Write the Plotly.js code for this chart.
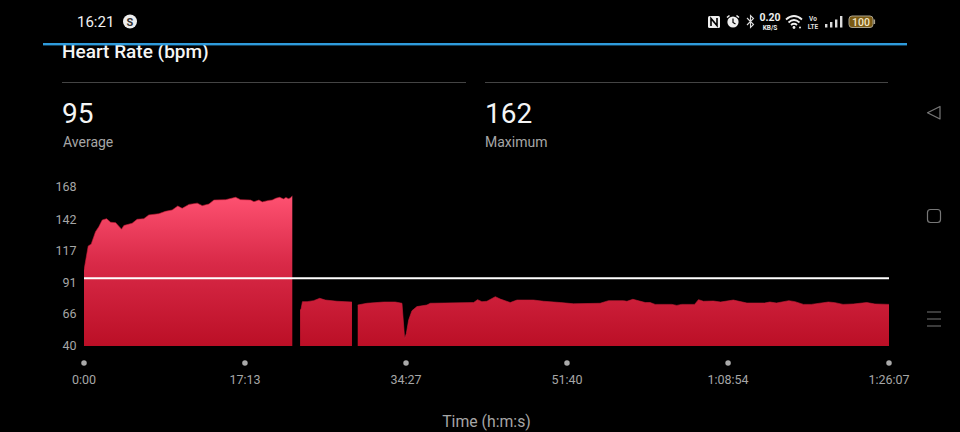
<!DOCTYPE html>
<html>
<head>
<meta charset="utf-8">
<script src="https://cdn.plot.ly/plotly-3.0.1.min.js"></script>
<style>
html,body{margin:0;padding:0;background:#000;width:960px;height:432px;overflow:hidden}
#chart{position:absolute;left:0;top:0;width:960px;height:432px}
#chrome{position:absolute;left:0;top:0;width:960px;height:432px;pointer-events:none}
</style>
</head>
<body>
<div id="chart"></div>
<svg id="chrome" width="960" height="432" font-family="Roboto, sans-serif">
  <rect x="0" y="0" width="960" height="43" fill="#000"/>
  <rect x="43" y="43" width="864" height="2.4" fill="#2f9bdc"/>
  <text x="77" y="26.5" fill="#f2f2f2" font-size="15" font-weight="400">16:21</text>
  <circle cx="130" cy="21.5" r="7" fill="#eee"/>
  <text x="130" y="25.5" fill="#333" font-size="11" font-weight="700" text-anchor="middle">S</text>
  <rect x="708" y="16" width="12" height="12" rx="1.5" fill="#eee"/>
  <path d="M711 26V18.5L717 25.5V18" stroke="#000" stroke-width="1.6" fill="none"/>
  <circle cx="733" cy="22" r="5.6" fill="#eee"/>
  <path d="M733 18.5V22.5L735.5 24" stroke="#000" stroke-width="1.2" fill="none"/>
  <path d="M727 17.5L729.5 15.5M739 17.5L736.5 15.5" stroke="#eee" stroke-width="1.6"/>
  <path d="M747 18L753.5 24.5L750.5 27.5V15.5L753.5 18.5L747 25" stroke="#ddd" stroke-width="1.1" fill="none"/>
  <text x="770" y="21" fill="#eee" font-size="10.5" font-weight="700" text-anchor="middle">0.20</text>
  <text x="770" y="29.5" fill="#eee" font-size="6.5" font-weight="700" text-anchor="middle">KB/S</text>
  <path d="M786 19.5Q794 12.5 802 19.5M788.5 22.5Q794 17.5 799.5 22.5M791 25Q794 22.5 797 25" stroke="#eee" stroke-width="1.8" fill="none"/>
  <circle cx="794" cy="27.5" r="1.4" fill="#eee"/>
  <circle cx="800" cy="27.5" r="1" fill="#eee"/>
  <text x="813" y="21" fill="#ddd" font-size="6.5" font-weight="700" text-anchor="middle">Vo</text>
  <text x="813" y="28.5" fill="#ddd" font-size="6.5" font-weight="700" text-anchor="middle">LTE</text>
  <rect x="825" y="24" width="2.4" height="3.5" fill="#ddd"/>
  <rect x="830" y="22" width="2.4" height="5.5" fill="#ddd"/>
  <rect x="835" y="19.5" width="2.4" height="8" fill="#ddd"/>
  <rect x="840" y="16" width="2.4" height="11.5" fill="#ddd"/>
  <rect x="849" y="16" width="24" height="11.5" rx="3" fill="#7a5a14" stroke="#a8a08a" stroke-width="1"/>
  <rect x="873.5" y="19.5" width="1.6" height="4.5" fill="#a8a08a"/>
  <text x="861" y="26" fill="#f3e6c4" font-size="10.5" font-weight="500" text-anchor="middle">100</text>
  <rect x="62" y="82" width="404" height="1" fill="#444"/>
  <rect x="485" y="82" width="403" height="1" fill="#444"/>
  <path d="M927.5 112.7L940 106.5V119Z" fill="none" stroke="#777" stroke-width="1.2" stroke-linejoin="round"/>
  <rect x="927.5" y="209.5" width="13" height="13" rx="3" fill="none" stroke="#777" stroke-width="1.2"/>
  <path d="M927 312H941M927 319H941M927 326H941" stroke="#777" stroke-width="1.2"/>
</svg>
<script>
// Elapsed time in seconds and heart rate in bpm
var seg1Time = [0,8,16,27,46,59,74,95,117,145,171,203,224,241,256,288,309,341,384,416,480,523,566,602,630,674,727,759,802,834,909,973,1005,1069,1091,1123,1144,1185,1208,1232,1256,1281,1296,1312,1324,1337];
var seg1Rate = [101,106.6,114.6,120.5,122,126.7,132,136,141.4,142.5,139.6,139.3,136,134,137,138,138.8,142,142.5,145.5,146.5,148.4,149.5,152.7,150.8,154,155,153,154.3,157.5,157.8,159.7,157.8,157.5,156.2,157.5,156,157.2,157.5,159,159.7,158.4,159.6,158.6,159.2,160.8];
var seg2Time = [1387,1393,1402,1432,1474,1513,1549,1624,1720];
var seg2Rate = [69,69.5,75.7,75.7,76.5,78.4,77,76,75.4];
var seg3Time = [1757,1816,1923,1998,2041,2052,2058,2069,2084,2105,2137,2201,2223,2501,2526,2554,2586,2640,2672,2736,2779,2885,2950,3057,3142,3313,3367,3463,3485,3523,3559,3602,3634,3666,3773,3805,3836,3919,3944,3976,4040,4086,4168,4203,4255,4368,4402,4445,4524,4563,4618,4668,4778,4820,4872,4938,5024,5077,5120,5167];
var seg3Rate = [73,74.4,75.4,75.4,74.4,58,46,50,61,68.4,71.7,73,74.4,75,77.3,75.7,76,79.7,77.8,75,77,77,76,75,74,74.4,76.5,76.5,76,77.6,76.3,75,75,73.5,73.5,72.7,73.5,73.5,77.3,76,76.2,75.4,77,76.2,74.6,74.6,75.4,74.6,76.5,75.7,73.5,73.5,75.4,74.9,73.5,73.8,75,73.8,73.5,73.5];
var averageRate = 95;
var maximumRate = 162;
var averageLine = 94.6;
var xTicks = [0,1033,2067,3100,4134,5167];
var xLabels = ['0:00','17:13','34:27','51:40','1:08:54','1:26:07'];
var yTicks = [40,66,91,117,142,168];

function area(t,r){return {x:t,y:r,type:'scatter',mode:'lines',line:{width:0.6,color:'#c81c38'},
  fill:'tozeroy',fillgradient:{type:'vertical',start:162,stop:40,colorscale:[[0,'#ff5272'],[0.45,'#d92a48'],[1,'#bb0f26']]},
  hoverinfo:'skip',showlegend:false};}
var traces = [
 area(seg1Time,seg1Rate),area(seg2Time,seg2Rate),area(seg3Time,seg3Rate),
 {x:[0,5167],y:[averageLine,averageLine],type:'scatter',mode:'lines',line:{color:'#ffffff',width:2},hoverinfo:'skip',showlegend:false},
 {x:xTicks,y:xTicks.map(function(){return 0.5;}),yaxis:'y2',type:'scatter',mode:'markers',cliponaxis:false,marker:{color:'#aaaaaa',size:5.5},hoverinfo:'skip',showlegend:false}
];
// plot box spans pixel rows 187..366 and columns 83.5..889
var H = 179, W = 805.5;
function px(x){return (x-83.5)/W;}
function py(y){return (366-y)/H;}
function note(x,y,t,size,col){return {xref:'paper',yref:'paper',x:px(x),y:py(y),xanchor:'left',yanchor:'middle',showarrow:false,text:t,font:{family:'Roboto, sans-serif',size:size,color:col}};}
var font = {family:'Roboto, sans-serif',color:'#a6a6a6',size:12.5};
var layout = {
 width:960,height:432,paper_bgcolor:'#000',plot_bgcolor:'#000',showlegend:false,
 margin:{l:83.5,r:71,t:187,b:66,pad:0},font:font,
 title:{text:'Heart Rate (bpm)',x:62/960,xanchor:'left',y:1-51/432,yanchor:'middle',font:{family:'Roboto, sans-serif',size:19,color:'#f5f5f5',weight:500}},
 xaxis:{range:[0,5167],anchor:'y2',tickmode:'array',tickvals:xTicks,ticktext:xLabels,showgrid:false,zeroline:false,showline:false,
   ticks:'outside',ticklen:2,tickcolor:'rgba(0,0,0,0)',tickfont:font,
   title:{text:'Time (h:m:s)',standoff:29,font:{family:'Roboto, sans-serif',size:15.8,color:'#a6a6a6'}}},
 yaxis:{domain:[py(346),1],range:[40,168],anchor:'x',tickmode:'array',tickvals:yTicks,showgrid:false,zeroline:false,showline:false,
   ticks:'outside',ticklen:4,tickcolor:'rgba(0,0,0,0)',tickfont:font},
 yaxis2:{domain:[0,py(360)],range:[0,1],anchor:'x',visible:false,fixedrange:true},
 annotations:[
  note(59.5,113,String(averageRate),28,'#f5f5f5'),
  note(60,141.5,'Average',14,'#a6a6a6'),
  note(483,113,String(maximumRate),28,'#f5f5f5'),
  note(483,141.5,'Maximum',14,'#a6a6a6')
 ]
};
Plotly.newPlot('chart',traces,layout,{staticPlot:true,displayModeBar:false});
</script>
</body>
</html>
